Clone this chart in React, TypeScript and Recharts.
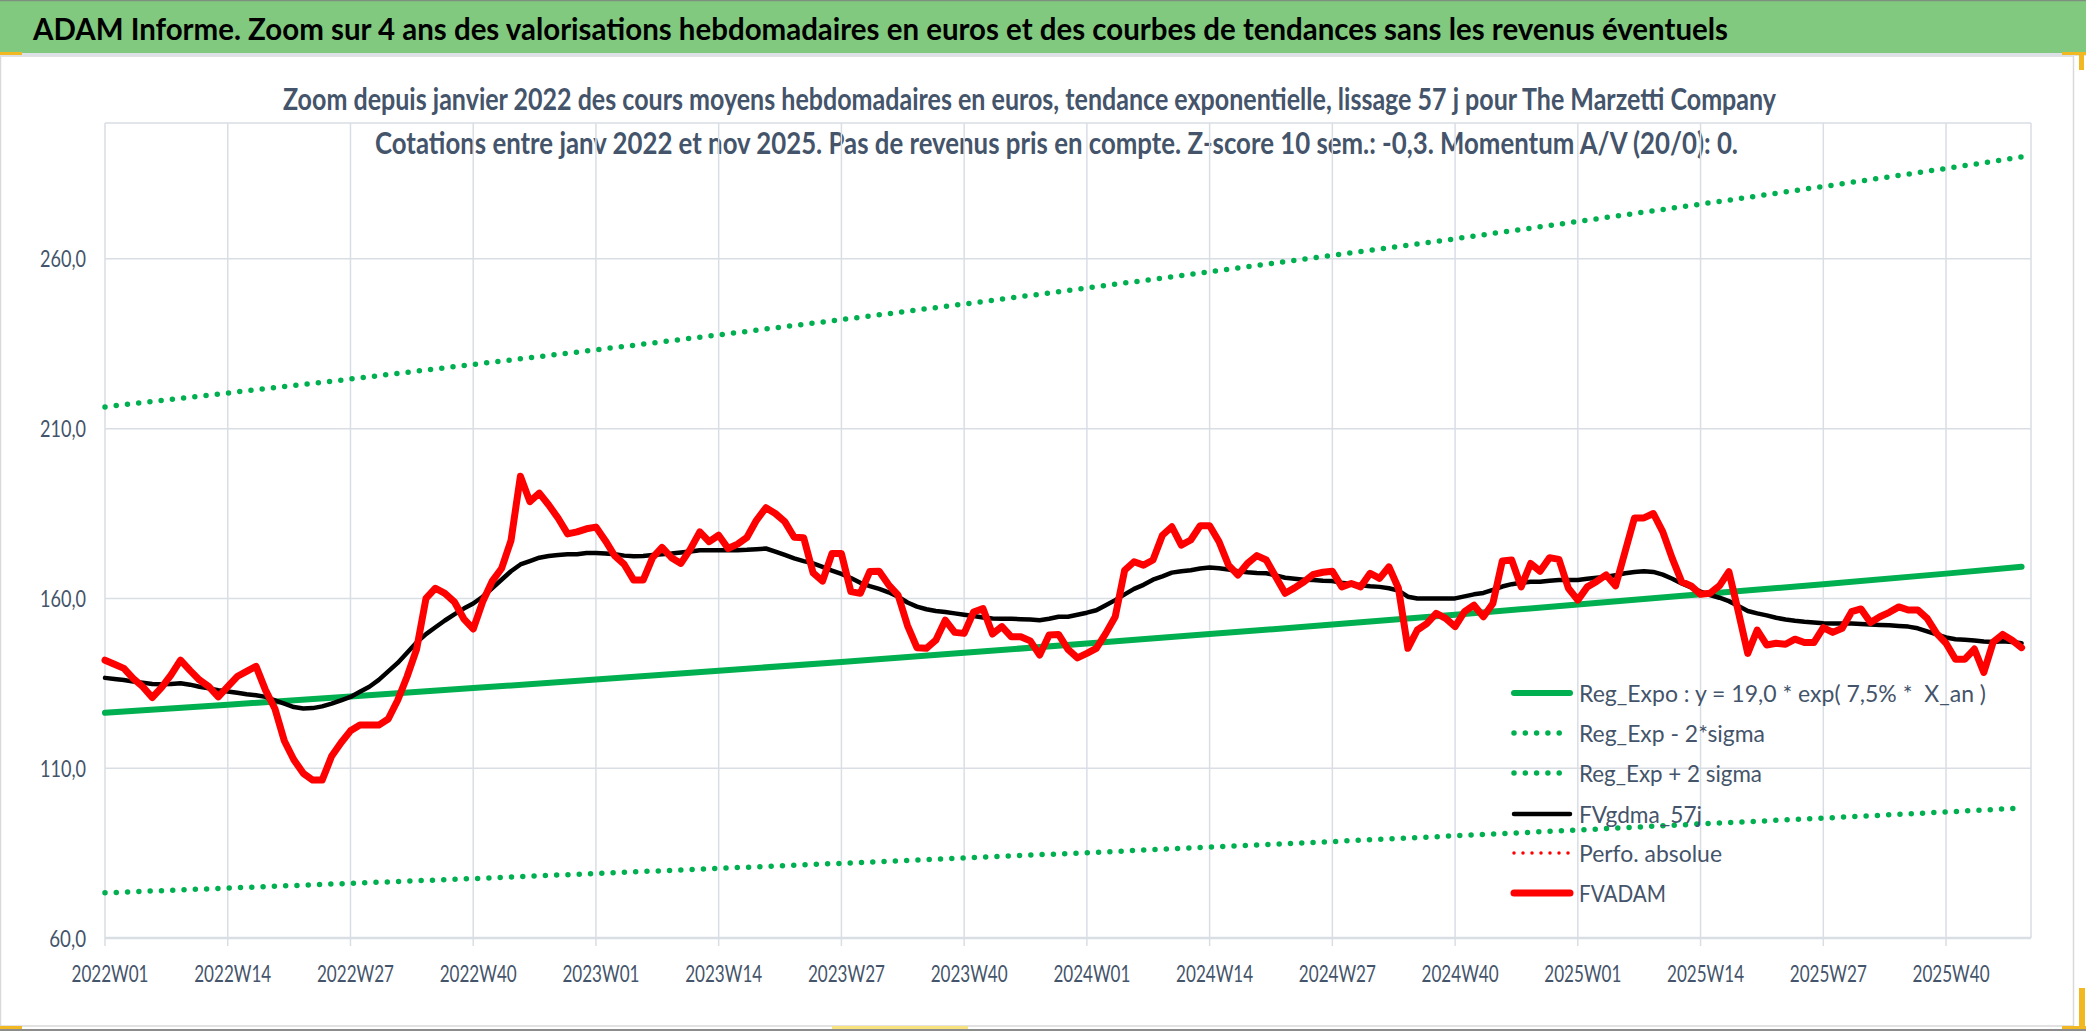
import React from 'react';
import { LineChart, Line, XAxis, YAxis, CartesianGrid, Legend } from 'recharts';

// Weekly categories, 2022W01 .. 2025W49 (last slot left empty, as in the sheet)
const YEARS = [2022, 2023, 2024, 2025];
const LAST_WEEK = { 2022: 52, 2023: 52, 2024: 52, 2025: 49 } as Record<number, number>;
const WEEKS: string[] = YEARS.flatMap((y) =>
  Array.from({ length: LAST_WEEK[y] }, (_, k) => `${y}W${String(k + 1).padStart(2, '0')}`),
);

const X_TICKS = [
  '2022W01', '2022W14', '2022W27', '2022W40',
  '2023W01', '2023W14', '2023W27', '2023W40',
  '2024W01', '2024W14', '2024W27', '2024W40',
  '2025W01', '2025W14', '2025W27', '2025W40',
];
const Y_TICKS = [60, 110, 160, 210, 260];

// Trend lines read every 13 weeks (plus the last week)
const TREND_WEEKS = [
  '2022W01', '2022W14', '2022W27', '2022W40',
  '2023W01', '2023W14', '2023W27', '2023W40',
  '2024W01', '2024W14', '2024W27', '2024W40',
  '2025W01', '2025W14', '2025W27', '2025W40', '2025W48',
];
const REG_EXPO = [
  126.3, 128.7, 131.1, 133.6, 136.1, 138.7, 141.3, 144.0,
  146.7, 149.5, 152.3, 155.2, 158.2, 161.2, 164.2, 167.3, 169.3,
];
const REG_LOW = [
  73.3, 74.7, 76.1, 77.5, 79.0, 80.5, 82.0, 83.6,
  85.1, 86.8, 88.4, 90.1, 91.8, 93.6, 95.3, 97.1, 98.3,
];
const REG_HIGH = [
  216.4, 220.5, 224.6, 228.9, 233.2, 237.6, 242.1, 246.7,
  251.4, 256.2, 261.0, 265.9, 271.0, 276.1, 281.3, 286.6, 290.0,
];

// FVgdma_57j, weekly from 2022W01
const FVGDMA_57J = [
  136.6, 136.3, 136.0, 135.5, 135.2, 134.8, 134.7, 134.8, 135.0, 134.6,
  134.0, 133.5, 133.0, 132.6, 132.2, 131.8, 131.5, 131.0, 130.0, 129.0,
  128.0, 127.6, 127.7, 128.2, 129.0, 130.0, 131.0, 132.5, 134.0, 136.0,
  138.5, 141.0, 144.0, 147.0, 149.5, 151.5, 153.5, 155.3, 157.0, 158.5,
  160.5, 163.0, 165.5, 168.0, 170.0, 171.0, 172.0, 172.5, 172.8, 173.0,
  173.0, 173.4, 173.4, 173.2, 173.0, 172.6, 172.4, 172.5, 172.8, 173.0,
  173.2, 173.5, 173.8, 174.2, 174.2, 174.2, 174.2, 174.2, 174.3, 174.5,
  174.7, 173.8, 172.8, 171.8, 171.0, 170.3, 169.3, 168.2, 167.2, 166.0,
  164.6, 163.6, 162.8, 161.8, 160.5, 158.8, 157.6, 156.8, 156.3, 156.0,
  155.6, 155.2, 154.8, 154.4, 154.1, 154.0, 154.0, 153.9, 153.8, 153.6,
  154.0, 154.6, 154.6, 155.2, 155.8, 156.5, 158.0, 159.5, 161.2, 162.8,
  164.0, 165.5, 166.5, 167.6, 168.0, 168.3, 168.8, 169.1, 168.9, 168.5,
  168.0, 167.7, 167.5, 167.4, 166.8, 166.1, 165.8, 165.5, 165.4, 165.2,
  165.1, 164.6, 164.2, 163.9, 163.6, 163.4, 163.0, 162.3, 160.5, 160.0,
  160.0, 160.0, 160.0, 160.0, 160.6, 161.2, 161.6, 162.5, 163.5, 164.2,
  164.6, 164.9, 164.9, 165.2, 165.4, 165.4, 165.4, 165.8, 166.1, 166.4,
  166.8, 167.4, 167.8, 168.0, 167.8, 167.0, 165.8, 164.4, 163.2, 162.0,
  161.0, 160.2, 159.2, 157.8, 156.3, 155.6, 155.0, 154.3, 153.8, 153.4,
  153.1, 152.9, 152.7, 152.6, 152.6, 152.6, 152.5, 152.3, 152.2, 152.1,
  151.9, 151.7, 151.2, 150.3, 149.4, 148.5, 148.0, 147.8, 147.6, 147.3,
  147.2, 147.4, 147.2, 146.8,
];

// FVADAM weekly average price, from 2022W01
const FVADAM = [
  141.8, 140.6, 139.4, 136.4, 134.0, 130.8, 133.8, 137.5, 141.8, 138.8,
  136.0, 134.0, 131.0, 134.0, 137.0, 138.5, 140.0, 133.0, 127.5, 118.0,
  112.5, 108.5, 106.5, 106.5, 113.5, 117.5, 121.0, 122.7, 122.7, 122.7,
  124.5, 130.0, 137.0, 145.0, 160.0, 163.0, 161.5, 159.0, 154.0, 151.0,
  159.0, 165.0, 168.8, 177.0, 196.0, 188.5, 191.0, 187.5, 183.6, 179.0,
  179.6, 180.5, 181.0, 177.0, 172.5, 170.0, 165.4, 165.4, 172.0, 175.0,
  172.0, 170.3, 174.5, 179.6, 176.7, 178.6, 174.7, 176.0, 178.0, 183.0,
  186.7, 185.0, 182.6, 178.0, 177.9, 167.5, 165.1, 173.2, 173.2, 162.0,
  161.5, 167.9, 168.0, 164.0, 161.0, 152.0, 145.5, 145.3, 147.7, 153.6,
  150.0, 149.7, 156.0, 157.0, 149.5, 151.7, 148.7, 148.7, 147.5, 143.3,
  149.2, 149.4, 145.0, 142.5, 143.8, 145.3, 149.7, 154.6, 168.3, 170.8,
  169.8, 171.3, 178.6, 181.1, 175.7, 177.2, 181.4, 181.4, 176.7, 169.8,
  166.9, 170.3, 172.6, 171.3, 166.4, 161.5, 163.1, 164.9, 167.1, 167.7,
  168.0, 163.4, 164.4, 163.4, 167.4, 165.9, 169.3, 163.0, 145.3, 150.7,
  152.6, 155.6, 154.1, 151.7, 156.1, 158.0, 154.6, 158.5, 171.0, 171.3,
  163.4, 170.3, 168.0, 172.0, 171.5, 163.0, 159.5, 163.4, 165.0, 166.9,
  163.7, 173.7, 183.7, 183.7, 185.0, 179.6, 171.8, 164.9, 163.7, 161.2,
  161.5, 163.7, 167.9, 156.1, 143.8, 150.7, 146.3, 146.8, 146.5, 148.0,
  147.0, 147.0, 151.4, 150.0, 151.2, 156.1, 156.9, 152.9, 154.6, 155.9,
  157.5, 156.6, 156.6, 154.1, 149.7, 146.8, 142.1, 142.1, 145.1, 138.2,
  147.2, 149.4, 147.7, 145.5,
];

// Perfo. absolue has no point in this window
const PERFO_ABSOLUE: number[] = [];

const GREEN = '#00B050';
const RED = '#FF0000';
const TEXT = '#44546A';
const GRID = '#D9DEE5';
const FONT = 'Lato, "Open Sans", sans-serif';

const SERIES = [
  { key: 'regExpo', name: 'Reg_Expo : y = 19,0 * exp( 7,5% *  X_an )', color: GREEN, width: 6, dash: undefined, trend: true, textW: 407 },
  { key: 'regLow', name: 'Reg_Exp - 2*sigma', color: GREEN, width: 5.5, dash: '0 11.3', trend: true, textW: 186 },
  { key: 'regHigh', name: 'Reg_Exp + 2 sigma', color: GREEN, width: 5.5, dash: '0 11.3', trend: true, textW: 183 },
  { key: 'fvgdma', name: 'FVgdma_57j', color: '#000000', width: 4.5, dash: undefined, trend: false, textW: 123 },
  { key: 'perfo', name: 'Perfo. absolue', color: RED, width: 3.5, dash: '0 9', trend: false, textW: 143 },
  { key: 'fvadam', name: 'FVADAM', color: RED, width: 7, dash: undefined, trend: false, textW: 87 },
];

const data = WEEKS.map((week, i) => {
  const t = TREND_WEEKS.indexOf(week);
  return {
    week,
    regExpo: t >= 0 ? REG_EXPO[t] : null,
    regLow: t >= 0 ? REG_LOW[t] : null,
    regHigh: t >= 0 ? REG_HIGH[t] : null,
    fvgdma: FVGDMA_57J[i] ?? null,
    perfo: PERFO_ABSOLUE[i] ?? null,
    fvadam: FVADAM[i] ?? null,
  };
});

const fmtY = (v: number) => v.toFixed(1).replace('.', ',');

const YTick = (props: any) => {
  const label = fmtY(props.payload.value);
  const w = label.length * 9.2;
  return (
    <text x={86 - w} y={props.y + 8.5} textLength={w} lengthAdjust="spacingAndGlyphs"
      fontFamily={FONT} fontSize={24} fill={TEXT}>
      {label}
    </text>
  );
};

const XTick = (props: any) => (
  <text x={props.x - 33.5} y={props.y + 35.5} textLength={77} lengthAdjust="spacingAndGlyphs"
    fontFamily={FONT} fontSize={24} fill={TEXT}>
    {props.payload.value}
  </text>
);

const LegendBox = () => (
  <svg width={560} height={240} style={{ display: 'block' }}>
    {SERIES.map((s, k) => {
      const cy = [23, 63, 103, 144, 183, 223][k];
      return (
        <g key={s.key}>
          <line x1={14} x2={70} y1={cy} y2={cy} stroke={s.color} strokeWidth={s.width}
            strokeDasharray={s.dash} strokeLinecap="round" />
          <text x={79} y={cy + 8.5} textLength={s.textW} lengthAdjust="spacingAndGlyphs"
            fontFamily={FONT} fontSize={24} fill={TEXT} style={{ whiteSpace: 'pre' }}>
            {s.name}
          </text>
        </g>
      );
    })}
  </svg>
);

const Frame = () => (
  <svg width={2086} height={1031} style={{ position: 'absolute', left: 0, top: 0 }}>
    <rect x={0} y={0} width={2086} height={1031} fill="#ffffff" />
    <rect x={0.5} y={56} width={2073} height={970} fill="#ffffff" stroke="#D9D9D9" strokeWidth={1.5} />
    <rect x={0} y={0} width={2086} height={53} fill="#80C97F" />
    <line x1={0} x2={2086} y1={0.5} y2={0.5} stroke="#7F8F7F" strokeWidth={1.5} />
    <rect x={0} y={53} width={2086} height={3} fill="#DDE1E7" />
    <line x1={0} x2={2086} y1={1030} y2={1030} stroke="#8C8C8C" strokeWidth={2} />
    {/* selection handles */}
    <rect x={0} y={52} width={22} height={3} fill="#F2B821" />
    <rect x={2062} y={52} width={24} height={3} fill="#F2B821" />
    <rect x={2079} y={52} width={5} height={18} fill="#F2B821" />
    <rect x={2079} y={988} width={6} height={41} fill="#F2B821" />
    <rect x={2062} y={1026} width={24} height={3} fill="#F2B821" />
    <rect x={0} y={1026} width={22} height={3} fill="#F2B821" />
    <rect x={832} y={1026} width={136} height={3} fill="#F8E27E" />
    <text x={33} y={40} textLength={1695} lengthAdjust="spacingAndGlyphs"
      fontFamily={FONT} fontWeight="bold" fontSize={31} fill="#000000">
      ADAM Informe. Zoom sur 4 ans des valorisations hebdomadaires en euros et des courbes de tendances sans les revenus éventuels
    </text>
    <text x={283} y={110} textLength={1493} lengthAdjust="spacingAndGlyphs"
      fontFamily={FONT} fontWeight="bold" fontSize={30} fill={TEXT}>
      Zoom depuis janvier 2022 des cours moyens hebdomadaires en euros, tendance exponentielle, lissage 57 j pour The Marzetti Company
    </text>
    <text x={375} y={154} textLength={1363} lengthAdjust="spacingAndGlyphs"
      fontFamily={FONT} fontWeight="bold" fontSize={30} fill={TEXT}>
      Cotations entre janv 2022 et nov 2025. Pas de revenus pris en compte. Z-score 10 sem.: -0,3. Momentum A/V (20/0): 0.
    </text>
  </svg>
);

export default function App() {
  return (
    <div style={{ position: 'absolute', left: 0, top: 0, width: 2086, height: 1031, overflow: 'hidden' }}>
      <Frame />
      <div style={{ position: 'absolute', left: 0, top: 0 }}>
        <LineChart width={2086} height={1031} data={data}
          margin={{ top: 123, right: 55, bottom: 33, left: 25 }}>
          <CartesianGrid stroke={GRID} strokeWidth={1.5} />
          <XAxis dataKey="week" ticks={X_TICKS} interval={0} height={60}
            tick={<XTick />} tickSize={8} tickMargin={0}
            axisLine={{ stroke: GRID, strokeWidth: 2.5 }} tickLine={{ stroke: GRID, strokeWidth: 1.5 }} />
          <YAxis type="number" domain={[60, 300]} ticks={Y_TICKS} width={80}
            tick={<YTick />} axisLine={false} tickLine={false} />
          {SERIES.map((s) => (
            <Line key={s.key} type="linear" dataKey={s.key} name={s.name}
              stroke={s.color} strokeWidth={s.width} strokeDasharray={s.dash}
              strokeLinecap="round" strokeLinejoin="round"
              dot={false} activeDot={false} connectNulls={s.trend}
              isAnimationActive={false} />
          ))}
          <Legend layout="vertical" align="center" verticalAlign="middle"
            content={<LegendBox />}
            wrapperStyle={{ left: 1500, top: 670, width: 560, height: 240 }} />
        </LineChart>
      </div>
    </div>
  );
}
